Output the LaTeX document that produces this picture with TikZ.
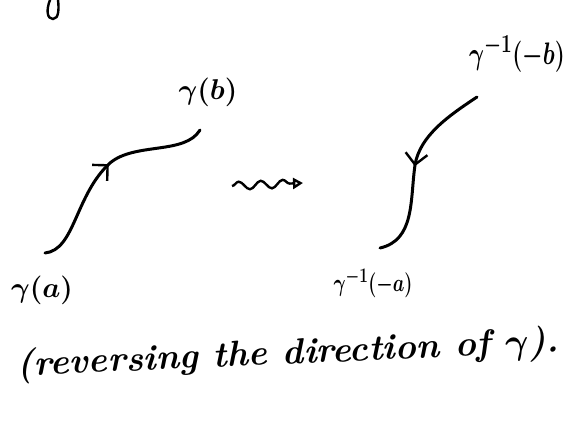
\documentclass[tikz,border=0pt]{standalone}
\usepackage{amsmath}
\usepackage{amssymb}
\usepackage{tikz}
\usetikzlibrary{positioning, arrows.meta, decorations.markings, decorations.pathmorphing}

\begin{document}
\begin{tikzpicture}[x=1pt, y=-1pt,
                  lbl/.style={inner sep=1pt, font=\fontsize{24.88}{25}\selectfont\boldmath},
                  curve/.style={line width=3pt, line cap=round},
                  midarr/.style={postaction={decorate},
                                 decoration={markings, mark=at position #1 with
                                   {\arrow[line width=2.4pt]{Straight Barb[length=11pt, width=22pt]}}}},
                  squig/.style={line width=2.4pt, -{Triangle[open, length=10pt, width=11pt]},
                                decorate, decoration={snake, amplitude=4pt, segment length=22pt, post length=10pt}},
                  caption/.style={font=\fontsize{36}{40}\selectfont\bfseries\itshape\boldmath, rotate=2.5},
            ]
            \useasboundingbox (0,0) rectangle (573,421);

            % ends of the two paths
            \coordinate (a0) at (45,253);
            \coordinate (b0) at (200,130);
            \coordinate (mb) at (477,97);
            \coordinate (ma) at (380,248);

            \node[lbl] (ga) at (42,290) {\scalebox{1.15}{$\gamma(a)$}};
            \node[lbl] (gb) at (208,92) {\scalebox{1.15}{$\gamma(b)$}};
            \node[lbl] (ginvb) at (517,54) {\scalebox{0.92}[1.25]{$\gamma^{-1}(-b)$}};
            \node[lbl] (ginva) at (373,283) {\scalebox{0.74}[1.0]{$\gamma^{-1}(-a)$}};

            \draw[curve, midarr=0.53] (a0) .. controls (75,250) and (75,195) .. (110,163)
                  .. controls (135,142) and (185,155) .. (b0);
            \draw[curve, midarr=0.5] (mb) .. controls (450,115) and (420,135) .. (415,165)
                  .. controls (410,200) and (415,240) .. (ma);

            % the squiggly arrow
            \coordinate (sq1) at (232,186);
            \coordinate (sq2) at (303,183);
            \draw[squig] (sq1) -- (sq2);

            \node[caption] (cap) at (288,355) {(reversing the direction of \scalebox{1.45}{$\gamma$}).};

            % bit of a letter from the line above
            \draw[curve, line width=2.4pt] (50,0) .. controls (46,10) and (47,19) .. (53,19)
                  .. controls (59,19) and (59,8) .. (58,0);

      \end{tikzpicture}
\end{document}
